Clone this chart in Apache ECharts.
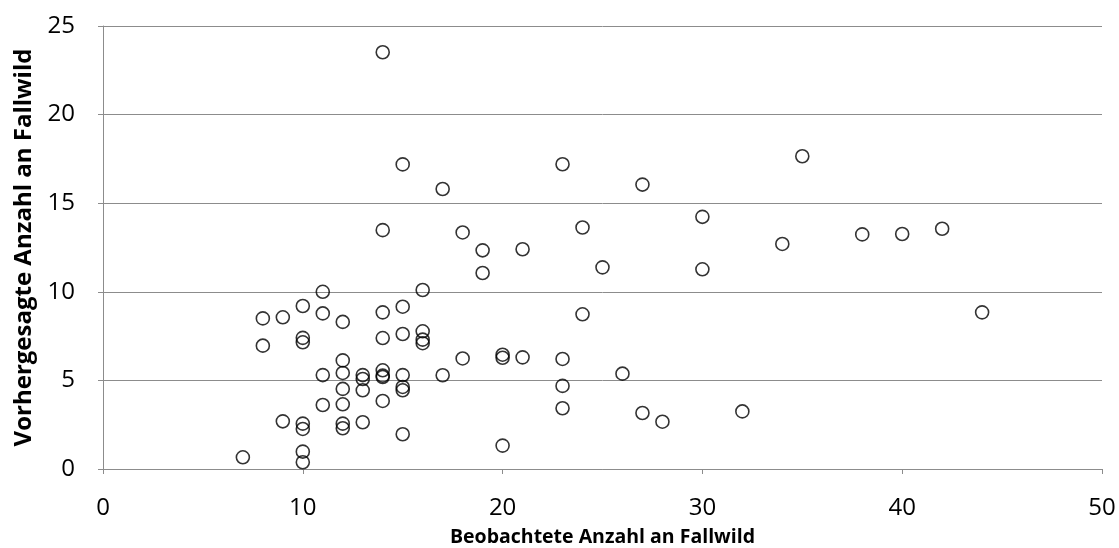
<!DOCTYPE html>
<html>
<head>
<meta charset="utf-8">
<script src="https://cdn.jsdelivr.net/npm/echarts@6/dist/echarts.min.js"></script>
<style>
  html, body { margin: 0; padding: 0; background: #fff; }
  #chart { width: 1119px; height: 548px; }
</style>
</head>
<body>
<div id="chart"></div>
<script>
// beobachtet (x) / vorhergesagt (y)
const observed = [
  7,
  8, 8,
  9, 9,
  10, 10, 10, 10, 10, 10, 10,
  11, 11, 11, 11,
  12, 12, 12, 12, 12, 12, 12,
  13, 13, 13, 13,
  14, 14, 14, 14, 14, 14, 14, 14,
  15, 15, 15, 15, 15, 15, 15,
  16, 16, 16, 16,
  17, 17,
  18, 18,
  19, 19,
  20, 20, 20,
  21, 21,
  23, 23, 23, 23,
  24, 24,
  25, 26, 27, 27, 28,
  30, 30, 32, 34, 35, 38, 40, 42, 44
];
const predicted = [
  0.66,
  8.5, 6.96,
  8.56, 2.69,
  9.2, 7.4, 7.15, 2.56, 2.26, 0.98, 0.38,
  10.0, 8.78, 5.3, 3.61,
  8.3, 6.13, 5.42, 4.52, 3.65, 2.56, 2.3,
  5.3, 5.08, 4.44, 2.64,
  23.52, 13.48, 8.84, 7.39, 5.57, 5.27, 5.19, 3.84,
  17.19, 9.16, 7.62, 5.3, 4.63, 4.44, 1.96,
  10.1, 7.77, 7.3, 7.1,
  15.8, 5.29,
  13.35, 6.24,
  12.34, 11.06,
  6.45, 6.28, 1.32,
  12.4, 6.3,
  17.2, 6.21, 4.69, 3.43,
  13.63, 8.73,
  11.38, 5.38, 16.05, 3.16, 2.67,
  14.23, 11.27, 3.25, 12.7, 17.65, 13.24, 13.26, 13.56, 8.84
];
const xTitle = 'Beobachtete Anzahl an Fallwild';
const yTitle = 'Vorhergesagte Anzahl an Fallwild';

const points = observed.map((x, i) => [x, predicted[i]]);

const chart = echarts.init(document.getElementById('chart'));
const font = '"Open Sans", "Noto Sans", sans-serif';
const gray = '#8c8c8c';

chart.setOption({
  animation: false,
  grid: { left: 103, right: 17, top: 26, bottom: 79, outerBoundsMode: 'none' },
  xAxis: {
    type: 'value',
    min: 0,
    max: 50,
    interval: 10,
    name: xTitle,
    nameLocation: 'middle',
    nameGap: 58,
    nameTextStyle: { fontFamily: font, fontSize: 19.5, fontWeight: 'bold', color: '#000' },
    axisLine: { show: true, lineStyle: { color: gray, width: 1 } },
    axisTick: { show: true, length: 5, lineStyle: { color: gray } },
    axisLabel: { fontFamily: font, fontSize: 24, color: '#000', margin: 27 },
    splitLine: { show: false }
  },
  yAxis: {
    type: 'value',
    min: 0,
    max: 25,
    interval: 5,
    name: yTitle,
    nameLocation: 'middle',
    nameGap: 66,
    nameTextStyle: { fontFamily: font, fontSize: 24, fontWeight: 'bold', color: '#000' },
    axisLine: { show: true, lineStyle: { color: gray, width: 1 } },
    axisTick: { show: true, length: 5, lineStyle: { color: gray } },
    axisLabel: { fontFamily: font, fontSize: 24, color: '#000', margin: 28 },
    splitLine: { show: true, lineStyle: { color: gray, width: 1 } }
  },
  series: [{
    type: 'scatter',
    data: points,
    symbol: 'circle',
    symbolSize: 13,
    itemStyle: { color: 'rgba(0,0,0,0)', borderColor: '#000', borderWidth: 1.6 },
    emphasis: { disabled: true }
  }]
});
</script>
</body>
</html>
